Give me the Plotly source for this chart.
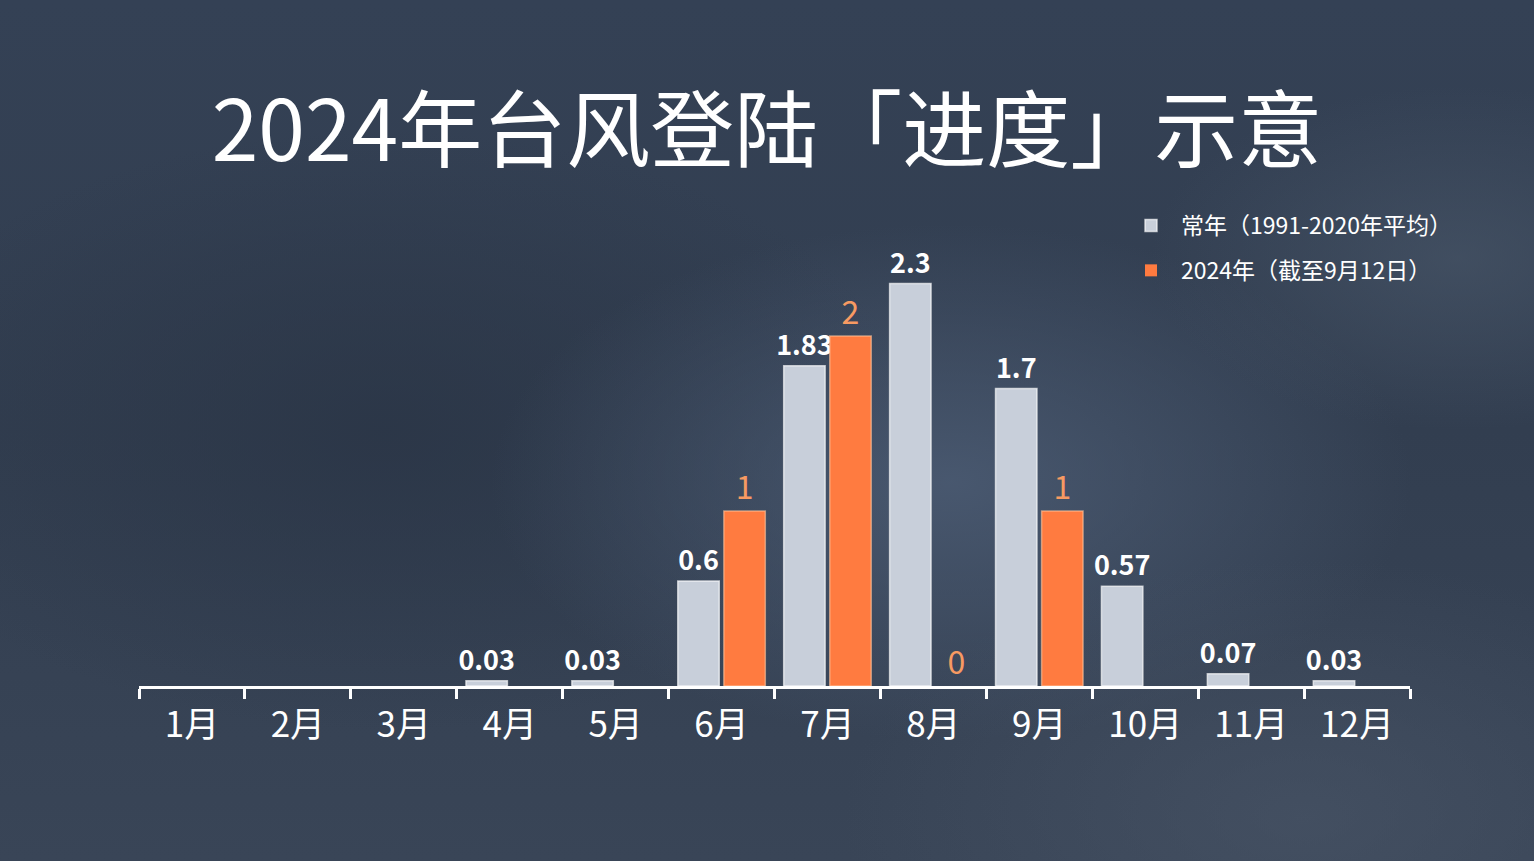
import plotly.graph_objects as go
import base64

months = ["1月", "2月", "3月", "4月", "5月", "6月", "7月", "8月", "9月", "10月", "11月", "12月"]
normal_avg = [None, None, None, 0.03, 0.03, 0.6, 1.83, 2.3, 1.7, 0.57, 0.07, 0.03]
y2024 = [None, None, None, None, None, 1, 2, 0, 1, None, None, None]
name_normal = "常年（1991-2020年平均）"
name_2024 = "2024年（截至9月12日）"
title_text = "2024年台风登陆「进度」示意"

FONT = "Noto Sans CJK SC"

svg = """<svg xmlns='http://www.w3.org/2000/svg' width='1534' height='861' preserveAspectRatio='none'>
<defs>
<radialGradient id='a' cx='0.62' cy='0.56' r='0.3'>
<stop offset='0' stop-color='#4c5c74' stop-opacity='0.85'/>
<stop offset='1' stop-color='#4c5c74' stop-opacity='0'/>
</radialGradient>
<radialGradient id='b' cx='0.25' cy='0.5' r='0.35'>
<stop offset='0' stop-color='#2a3546' stop-opacity='0.8'/>
<stop offset='1' stop-color='#2a3546' stop-opacity='0'/>
</radialGradient>
<radialGradient id='c' cx='0.85' cy='0.95' r='0.3'>
<stop offset='0' stop-color='#4a5668' stop-opacity='0.6'/>
<stop offset='1' stop-color='#4a5668' stop-opacity='0'/>
</radialGradient>
<radialGradient id='e' cx='0.95' cy='0.3' r='0.2'>
<stop offset='0' stop-color='#4a586a' stop-opacity='0.6'/>
<stop offset='1' stop-color='#4a586a' stop-opacity='0'/>
</radialGradient>
<linearGradient id='d' x1='0' y1='0' x2='0' y2='1'>
<stop offset='0' stop-color='#344155'/>
<stop offset='0.5' stop-color='#323e50'/>
<stop offset='1' stop-color='#394557'/>
</linearGradient>
</defs>
<rect width='1534' height='861' fill='url(#d)'/>
<rect width='1534' height='861' fill='url(#b)'/>
<rect width='1534' height='861' fill='url(#a)'/>
<rect width='1534' height='861' fill='url(#c)'/>
<rect width='1534' height='861' fill='url(#e)'/>
</svg>"""
bg_uri = "data:image/svg+xml;base64," + base64.b64encode(svg.encode()).decode()

L, R, T, B = 139, 124, 161, 175
PW, PH = 1534 - L - R, 861 - T - B

fig = go.Figure()
fig.add_trace(go.Bar(
    x=months, y=normal_avg, name=name_normal, legendgroup="a",
    marker=dict(color="#c8cfda", line=dict(color="rgba(255,255,255,0.65)", width=1.5)),
    text=[None if v is None else f"{v:g}" for v in normal_avg],
    textposition="outside", constraintext="none",
    textfont=dict(family=FONT, size=27, color="#ffffff", weight="bold"),
    cliponaxis=False,
))
fig.add_trace(go.Bar(
    x=months, y=y2024, name=name_2024, legendgroup="b",
    marker=dict(color="#ff7b40",
                line=dict(color="rgba(255,200,160,0.6)",
                          width=[0 if (v is None or v == 0) else 1.5 for v in y2024])),
    text=[None if v is None else f"{v:g}" for v in y2024],
    textposition="outside", constraintext="none",
    textfont=dict(family=FONT, size=32, color="#f79a62"),
    cliponaxis=False,
))

fig.update_layout(
    width=1534, height=861,
    autosize=False,
    paper_bgcolor="#333f51",
    plot_bgcolor="rgba(0,0,0,0)",
    margin=dict(l=L, r=R, t=T, b=B, autoexpand=False),
    barmode="group",
    bargap=0.13,
    bargroupgap=0.1,
    font=dict(family=FONT, color="#ffffff"),
    title=dict(
        text=title_text,
        font=dict(family=FONT, size=84, color="#ffffff"),
        x=767 / 1534, xanchor="center", xref="container",
        y=1 - 132 / 861, yanchor="middle", yref="container",
    ),
    legend=dict(
        x=(1121 - L) / PW, y=(686 - 204) / PH, xref="paper", yref="paper",
        xanchor="left", yanchor="top",
        font=dict(family=FONT, size=23, color="#ffffff"),
        bgcolor="rgba(0,0,0,0)",
        itemwidth=50,
        tracegroupgap=12,
    ),
    xaxis=dict(
        showgrid=False,
        showline=True, linecolor="#ffffff", linewidth=3,
        ticks="outside", tickson="boundaries", ticklen=10, tickwidth=3, tickcolor="#ffffff",
        tickfont=dict(family=FONT, size=35, color="#ffffff"),
        ticklabelstandoff=6,
        tickangle=0,
        zeroline=False,
        automargin=False,
    ),
    yaxis=dict(
        range=[0, 3.0], visible=False, showgrid=False, zeroline=False,
    ),
    images=[dict(
        source=bg_uri, xref="paper", yref="paper",
        x=-L / PW, y=1 + T / PH, sizex=1534 / PW, sizey=861 / PH,
        xanchor="left", yanchor="top", sizing="stretch", layer="below",
    )],
    showlegend=True,
)

fig.write_html("out.html", config={"displayModeBar": False},
               post_script="document.body.style.margin='0';")
